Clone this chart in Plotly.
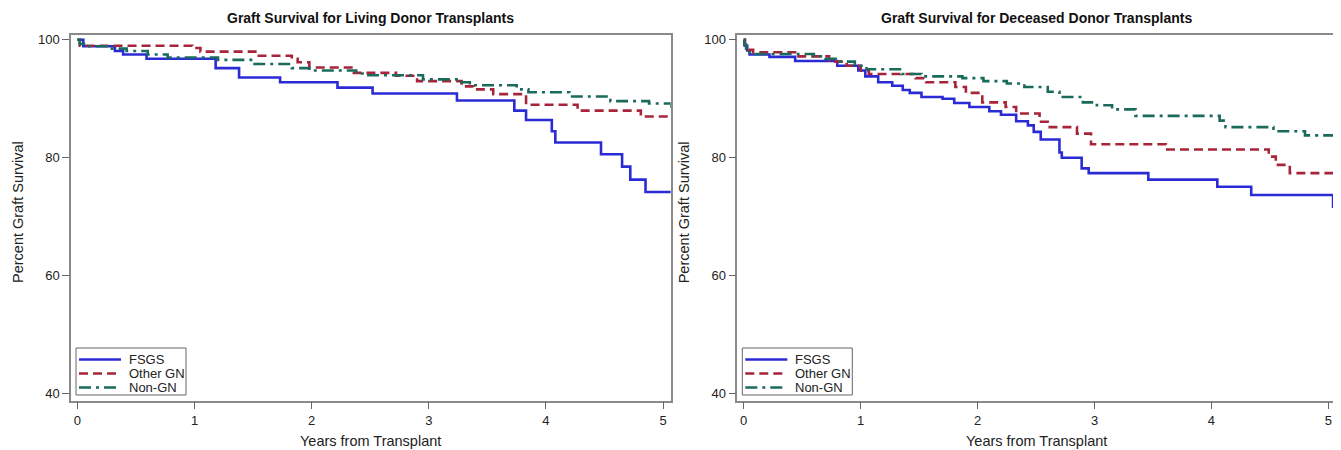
import plotly.graph_objects as go

# ---------------- data ----------------
# Living donor panel
ld_fsgs_x = [0, 0.05, 0.32, 0.39, 0.59, 1.18, 1.38, 1.73, 2.22, 2.52, 3.24, 3.73, 3.83, 4.05, 4.08, 4.47, 4.65, 4.72, 4.85, 5.07]
ld_fsgs_y = [100, 98.9, 98.1, 97.5, 96.8, 95.2, 93.6, 92.8, 91.9, 90.9, 89.7, 88.0, 86.4, 84.5, 82.6, 80.6, 78.5, 76.3, 74.2, 74.2]

ld_ogn_x = [0, 0.02, 0.98, 1.05, 1.53, 1.83, 1.88, 1.98, 2.36, 2.72, 2.9, 3.28, 3.38, 3.55, 3.83, 4.27, 4.81, 5.07]
ld_ogn_y = [100, 99.0, 98.6, 98.0, 97.3, 96.8, 96.2, 95.3, 94.4, 93.9, 93.0, 92.1, 91.6, 90.8, 89.0, 88.0, 87.0, 87.0]

ld_ngn_x = [0, 0.02, 0.1, 0.25, 0.42, 0.6, 0.77, 1.2, 1.5, 1.83, 1.98, 2.38, 2.45, 2.95, 3.25, 3.35, 3.75, 3.85, 4.2, 4.55, 4.88, 5.07]
ld_ngn_y = [100, 99.3, 98.9, 98.5, 98.1, 97.5, 97.0, 96.6, 95.9, 95.2, 94.8, 94.3, 94.0, 93.3, 92.8, 92.3, 91.6, 91.1, 90.4, 89.6, 89.2, 88.4]

# Deceased donor panel
dd_fsgs_x = [0, 0.01, 0.03, 0.05, 0.22, 0.44, 0.80, 0.98, 1.04, 1.15, 1.27, 1.36, 1.42, 1.52, 1.70, 1.80, 1.93, 2.10, 2.20,
             2.33, 2.43, 2.48, 2.54, 2.70, 2.72, 2.89, 2.95, 3.46, 4.05, 4.34, 5.04, 5.05]
dd_fsgs_y = [100, 99.0, 98.2, 97.5, 97.1, 96.4, 95.6, 94.8, 93.8, 92.8, 92.2, 91.5, 91.0, 90.3, 90.0, 89.3, 88.6, 87.9, 87.3,
             86.2, 85.5, 84.4, 83.1, 80.9, 80.0, 78.2, 77.4, 76.3, 75.1, 73.7, 71.7, 71.7]

dd_ogn_x = [0, 0.01, 0.04, 0.08, 0.45, 0.73, 0.88, 1.0, 1.07, 1.47, 1.56, 1.81, 1.90, 2.04, 2.24, 2.33, 2.53, 2.6, 2.85,
            2.97, 3.61, 4.49, 4.55, 4.67, 5.05]
dd_ogn_y = [100, 99.0, 98.3, 97.9, 97.2, 96.3, 95.6, 94.8, 94.2, 93.5, 92.8, 92.0, 91.0, 89.4, 88.6, 87.5, 86.1, 85.2, 84.1,
            82.3, 81.4, 80.2, 78.8, 77.4, 77.4]

dd_ngn_x = [0, 0.005, 0.02, 0.05, 0.1, 0.6, 0.7, 0.8, 0.95, 1.05, 1.35, 1.52, 1.87, 2.05, 2.25, 2.4, 2.6, 2.7, 2.9,
            3.02, 3.15, 3.35, 4.07, 4.12, 4.53, 4.8, 5.05]
dd_ngn_y = [100, 99.2, 98.5, 97.8, 97.6, 97.2, 96.8, 96.3, 95.6, 95.0, 94.2, 93.8, 93.5, 93.0, 92.6, 92.0, 91.2, 90.3, 89.4,
            88.9, 88.2, 87.1, 86.3, 85.2, 84.5, 83.8, 83.8]

series_names = ["FSGS", "Other GN", "Non-GN"]
x_ticks = [0, 1, 2, 3, 4, 5]
y_ticks = [40, 60, 80, 100]
panel_titles = ["Graft Survival for Living Donor Transplants", "Graft Survival for Deceased Donor Transplants"]
x_title = "Years from Transplant"
y_title = "Percent Graft Survival"

# ---------------- styling / layout helpers ----------------
COLORS = ["#2b2bd6", "#a8243a", "#1a6b5c"]
DASHES = ["solid", "9px,5px", "12px,5px,3px,5px"]
FONT = "Liberation Sans, Arial, sans-serif"
OFF = 8                       # page body margin
FW, FH = 1341 - OFF, 450 - OFF


def px(x):
    return (x - OFF) / FW


def py(y):
    return 1 - (y - OFF) / FH


panel_left = [71, 737.3]
panel_right = [670.7, 1336]
BOX_TOP, BOX_BOT = 34.5, 400.5

fig = go.Figure()

panels = [
    ([ld_fsgs_x, ld_ogn_x, ld_ngn_x], [ld_fsgs_y, ld_ogn_y, ld_ngn_y], "x", "y"),
    ([dd_fsgs_x, dd_ogn_x, dd_ngn_x], [dd_fsgs_y, dd_ogn_y, dd_ngn_y], "x2", "y2"),
]
for xs, ys, xa, ya in panels:
    for i in range(3):
        fig.add_trace(go.Scatter(
            x=xs[i], y=ys[i], mode="lines", name=series_names[i],
            line=dict(color=COLORS[i], width=2.6, dash=DASHES[i], shape="hv"),
            xaxis=xa, yaxis=ya, showlegend=False, hoverinfo="skip",
        ))

axis_common = dict(
    showline=True, mirror=True, linecolor="#8a8a8a", linewidth=1.5,
    ticks="outside", ticklen=7, tickcolor="#666666", tickwidth=1,
    showgrid=False, zeroline=False, automargin=False,
    tickfont=dict(family=FONT, size=13, color="#222222"),
)
xr = [-0.055, 5.065]
yr = [38.86, 100.9]
dom_y = [py(BOX_BOT), py(BOX_TOP)]

fig.update_layout(
    width=FW, height=FH,
    margin=dict(l=0, r=0, t=0, b=0, autoexpand=False),
    paper_bgcolor="white", plot_bgcolor="white",
    showlegend=False,
    xaxis=dict(domain=[px(panel_left[0]), px(panel_right[0])], range=xr, tickvals=x_ticks, anchor="y", **axis_common),
    yaxis=dict(domain=dom_y, range=yr, tickvals=y_ticks, anchor="x", **axis_common),
    xaxis2=dict(domain=[px(panel_left[1]), px(panel_right[1])], range=xr, tickvals=x_ticks, anchor="y2", **axis_common),
    yaxis2=dict(domain=dom_y, range=yr, tickvals=y_ticks, anchor="x2", **axis_common),
)

for p in range(2):
    L, R = panel_left[p], panel_right[p]
    cx = (L + R) / 2
    # panel title
    fig.add_annotation(text="<b>" + panel_titles[p] + "</b>", x=px(cx), y=py(18), xref="paper", yref="paper",
                       xanchor="center", yanchor="middle", showarrow=False,
                       font=dict(family=FONT, size=14, color="#111"))
    # x axis title
    fig.add_annotation(text=x_title, x=px(cx), y=py(441), xref="paper", yref="paper",
                       xanchor="center", yanchor="middle", showarrow=False,
                       font=dict(family=FONT, size=14.5, color="#222"))
    # y axis title
    fig.add_annotation(text=y_title, x=px(L - 53), y=py(212), xref="paper", yref="paper",
                       xanchor="center", yanchor="middle", showarrow=False, textangle=-90,
                       font=dict(family=FONT, size=14.5, color="#222"))
    # legend box (drawn inside the plot, bottom-left)
    fig.add_shape(type="rect", xref="paper", yref="paper",
                  x0=px(L + 5), x1=px(L + 115), y0=py(395), y1=py(348),
                  line=dict(color="#666666", width=1), fillcolor="white", layer="above")
    for i in range(3):
        ry = 359.5 + 14 * i
        fig.add_shape(type="line", xref="paper", yref="paper",
                      x0=px(L + 8), x1=px(L + 50), y0=py(ry), y1=py(ry),
                      line=dict(color=COLORS[i], width=2.6, dash=DASHES[i]), layer="above")
        fig.add_annotation(text=series_names[i], x=px(L + 56), y=py(ry), xref="paper", yref="paper",
                           xanchor="left", yanchor="middle", showarrow=False,
                           font=dict(family=FONT, size=13, color="#222"))

fig.write_html("out.html")
